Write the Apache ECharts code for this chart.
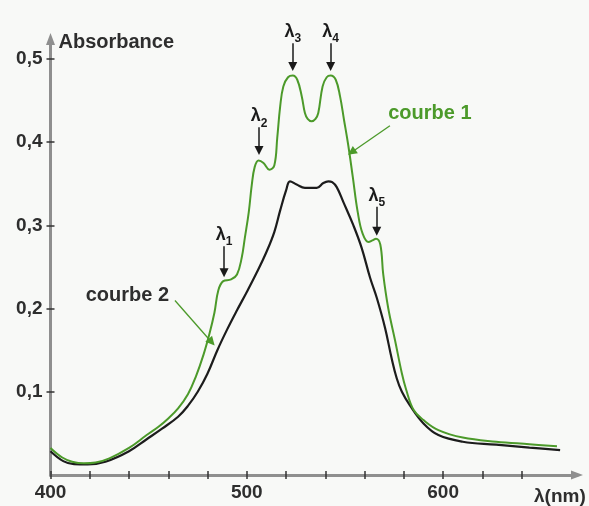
<!DOCTYPE html>
<html>
<head>
<meta charset="utf-8">
<script src="https://cdn.jsdelivr.net/npm/echarts@6/dist/echarts.min.js"></script>
<style>
  html, body { margin: 0; padding: 0; background: #f8f9f7; }
  #chart { width: 589px; height: 506px; }
</style>
</head>
<body>
<div id="chart"></div>
<script>
// ---- Data ----
// courbe 1 (green)
const lambda1 = [400, 406, 411, 417, 423, 430, 440, 449, 455, 460, 465, 470, 474, 478, 481, 483.5, 485.5, 488, 492, 495, 497.4, 499, 501, 502.5, 504, 506, 508.5, 511.5, 514, 515.5, 517, 518.6, 521, 523.4, 525.7, 528, 529.6, 531, 533, 535, 536.4, 538.6, 540.7, 542.7, 545.3, 547.5, 549.5, 551.7, 554, 556.5, 559, 562, 564, 565.8, 568, 569.5, 572, 575.5, 579, 581, 585, 590, 597.6, 610, 627, 644, 658];
const absorb1 = [0.0325, 0.021, 0.016, 0.014, 0.015, 0.020, 0.0325, 0.048, 0.058, 0.068, 0.080, 0.097, 0.118, 0.145, 0.170, 0.195, 0.222, 0.233, 0.235, 0.241, 0.261, 0.285, 0.316, 0.348, 0.37, 0.378, 0.375, 0.367, 0.372, 0.405, 0.443, 0.467, 0.478, 0.480, 0.475, 0.455, 0.435, 0.428, 0.425, 0.428, 0.435, 0.467, 0.478, 0.480, 0.475, 0.455, 0.427, 0.396, 0.358, 0.316, 0.29, 0.28, 0.282, 0.284, 0.277, 0.241, 0.201, 0.162, 0.122, 0.104, 0.078, 0.066, 0.054, 0.045, 0.040, 0.037, 0.0345];
// courbe 2 (black)
const lambda2 = [400, 406.5, 412, 419, 428, 440, 449, 457, 465, 470, 475, 480, 485, 490, 495, 500, 505, 510, 514, 517, 520, 522, 525.4, 529.6, 535.6, 539, 541.5, 543.5, 545.8, 549.2, 554.3, 558.5, 562.8, 566.2, 570.4, 573.8, 576.4, 579, 583, 590, 597.6, 610, 627, 644, 659.6];
const absorb2 = [0.0286, 0.0167, 0.013, 0.0127, 0.016, 0.0286, 0.043, 0.056, 0.070, 0.083, 0.100, 0.122, 0.150, 0.175, 0.198, 0.220, 0.243, 0.268, 0.292, 0.318, 0.342, 0.353, 0.349, 0.345, 0.345, 0.351, 0.353, 0.352, 0.346, 0.328, 0.300, 0.273, 0.237, 0.213, 0.177, 0.140, 0.116, 0.100, 0.084, 0.062, 0.048, 0.040, 0.0365, 0.033, 0.030];

// axis ticks / labels
const xTicks = [400, 420, 440, 460, 480, 500, 520, 540, 560, 580, 600, 620, 640];
const xTickLabels = [400, 500, 600];
const yTicks = [0.1, 0.2, 0.3, 0.4, 0.5];

// λ markers: index, wavelength, arrow top / bottom absorbance
const peakNames = ['1', '2', '3', '4', '5'];
const peakLambda = [488.4, 506.2, 523.4, 542.7, 566.2];
const peakArrowTop = [0.275, 0.418, 0.519, 0.519, 0.3225];
const peakArrowBottom = [0.243, 0.390, 0.491, 0.491, 0.293];

// curve name annotations
const curveNames = ['courbe 1', 'courbe 2'];
const curveLabelAt = [[571.5, 0.434], [460.9, 0.2156]];
const curveArrowFrom = [[572.9, 0.4197], [463.4, 0.2097]];
const curveArrowTo = [[553.4, 0.388], [482.1, 0.1596]];

// ---- Chart ----
const FONT = "'Liberation Sans', Arial, sans-serif";
const GREEN = '#4c9a2a';
const TXT = '#2e2e2e';

const pairs = (xs, ys) => xs.map((x, i) => [x, ys[i]]);
const fmtY = v => v.toFixed(1).replace('.', ',');

const peakLines = peakNames.map((n, i) => [
  {
    coord: [peakLambda[i], peakArrowTop[i]],
    label: {
      show: true, position: 'start', distance: 2,
      formatter: '{l|λ}{s|' + n + '}'
    }
  },
  { coord: [peakLambda[i], peakArrowBottom[i]] }
]);

const curveArrow = i => [
  { coord: curveArrowFrom[i], lineStyle: { color: GREEN, width: 1.3, type: 'solid' }, label: { show: false } },
  { coord: curveArrowTo[i] }
];

const chart = echarts.init(document.getElementById('chart'), null, { renderer: 'canvas' });
chart.setOption({
  animation: false,
  backgroundColor: '#f8f9f7',
  grid: { left: 50.5, right: 12, top: 39, bottom: 27, containLabel: false },
  xAxis: [{
    type: 'value', min: 400, max: 668.2,
    name: 'λ(nm)', nameLocation: 'end', nameGap: -43,
    nameTextStyle: { fontFamily: FONT, fontWeight: 'bold', fontSize: 19, color: TXT, align: 'left', verticalAlign: 'top', padding: [12, 0, 0, 0] },
    axisLine: { show: true, onZero: false, symbol: ['none', 'triangle'], symbolSize: [9, 12], lineStyle: { color: '#8f8f8f', width: 3 } },
    axisTick: { show: true, customValues: xTicks, length: 4, lineStyle: { color: '#333', width: 1.5 } },
    axisLabel: { show: true, customValues: xTickLabels, margin: 8, fontFamily: FONT, fontWeight: 'bold', fontSize: 19, color: TXT },
    splitLine: { show: false }
  }, {
    type: 'value', min: 400, max: 668.2, position: 'bottom',
    axisLine: { show: false, onZero: false },
    axisTick: { show: true, inside: true, customValues: xTicks, length: 4, lineStyle: { color: '#333', width: 1.5 } },
    axisLabel: { show: false },
    splitLine: { show: false }
  }],
  yAxis: [{
    type: 'value', min: 0, max: 0.524,
    name: 'Absorbance', nameLocation: 'end', nameGap: -3,
    nameTextStyle: { fontFamily: FONT, fontWeight: 'bold', fontSize: 20, color: TXT, align: 'left', verticalAlign: 'middle', padding: [0, 0, 0, 8] },
    axisLine: { show: true, onZero: false, symbol: ['none', 'triangle'], symbolSize: [9, 12], lineStyle: { color: '#8f8f8f', width: 3 } },
    axisTick: { show: true, customValues: yTicks, length: 4, lineStyle: { color: '#333', width: 1.5 } },
    axisLabel: { show: true, customValues: yTicks, margin: 8, formatter: fmtY, fontFamily: FONT, fontWeight: 'bold', fontSize: 19, color: TXT },
    splitLine: { show: false }
  }, {
    type: 'value', min: 0, max: 0.524, position: 'left',
    axisLine: { show: false, onZero: false },
    axisTick: { show: true, inside: true, customValues: yTicks, length: 4, lineStyle: { color: '#333', width: 1.5 } },
    axisLabel: { show: false },
    splitLine: { show: false }
  }],
  series: [{
    name: 'courbe 2', type: 'line', data: pairs(lambda2, absorb2),
    showSymbol: false, smooth: 0.4, clip: false,
    lineStyle: { color: '#1c1c1c', width: 2.2 },
    markPoint: {
      silent: true, symbol: 'circle', symbolSize: 2, itemStyle: { color: 'rgba(0,0,0,0)' },
      label: { show: true, position: 'left', distance: 0, formatter: curveNames[1], fontFamily: FONT, fontWeight: 'bold', fontSize: 20, color: TXT },
      data: [{ coord: curveLabelAt[1] }]
    },
    markLine: {
      silent: true, symbol: ['none', 'triangle'], symbolSize: 9,
      label: { show: false },
      lineStyle: { color: GREEN, width: 1.3, type: 'solid' },
      data: [curveArrow(1)]
    }
  }, {
    name: 'courbe 1', type: 'line', data: pairs(lambda1, absorb1),
    showSymbol: false, smooth: 0.4, clip: false,
    lineStyle: { color: GREEN, width: 2 },
    markPoint: {
      silent: true, symbol: 'circle', symbolSize: 2, itemStyle: { color: 'rgba(0,0,0,0)' },
      label: { show: true, position: 'right', distance: 0, formatter: curveNames[0], fontFamily: FONT, fontWeight: 'bold', fontSize: 20, color: GREEN },
      data: [{ coord: curveLabelAt[0] }]
    },
    markLine: {
      silent: true, symbol: ['none', 'triangle'], symbolSize: 9,
      lineStyle: { color: '#1a1a1a', width: 1.5, type: 'solid' },
      label: {
        show: false, color: '#1a1a1a', fontFamily: FONT,
        rich: {
          l: { fontFamily: FONT, fontSize: 18, fontWeight: 'bold', color: '#1a1a1a', lineHeight: 18, verticalAlign: 'bottom' },
          s: { fontFamily: FONT, fontSize: 12, fontWeight: 'bold', color: '#1a1a1a', lineHeight: 12, verticalAlign: 'bottom', padding: [0, 0, -4, 0] }
        }
      },
      data: peakLines.concat([curveArrow(0)])
    }
  }]
});
</script>
</body>
</html>
